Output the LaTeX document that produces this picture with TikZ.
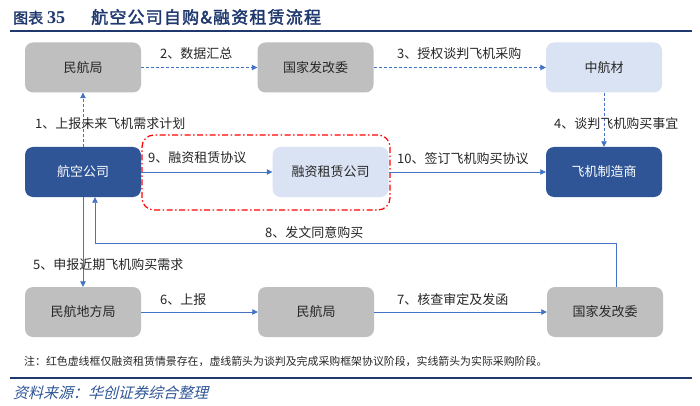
\documentclass[tikz,border=0pt]{standalone}
\usepackage{fontspec}
\usetikzlibrary{arrows.meta}
\setmainfont{Noto Sans CJK SC}
\newfontfamily\titlefont{Noto Sans CJK SC}[FakeBold=2]
\newfontfamily\titlefontsp{Noto Sans CJK SC}[FakeBold=2,LetterSpace=7]
\newfontfamily\srcfont{Noto Sans CJK SC}[FakeSlant=0.25]
\newfontfamily\numfont{Liberation Serif}
\definecolor{boxgray}{RGB}{191,191,191}
\definecolor{lightblue}{RGB}{218,227,243}
\definecolor{darkblue}{RGB}{47,85,151}
\definecolor{arrowblue}{RGB}{68,114,196}
\definecolor{navy}{RGB}{31,56,110}
\definecolor{txt}{RGB}{38,38,38}
\definecolor{srcblue}{RGB}{47,85,151}
\begin{document}
\begin{tikzpicture}[x=1pt,y=-1pt,
  box/.style={rounded corners=8pt, minimum width=116pt, minimum height=50pt, inner sep=0pt,
              font=\fontsize{13}{13}\selectfont, text=txt},
  graybox/.style={box, fill=boxgray},
  lightbox/.style={box, fill=lightblue},
  darkbox/.style={box, fill=darkblue, text=white},
  arr/.style={draw=arrowblue, line width=0.8pt, -{Triangle[length=5.5pt,width=5.5pt]}},
  darr/.style={arr, dash pattern=on 3pt off 2pt},
  lbl/.style={font=\fontsize{13}{13}\selectfont, text=txt, inner sep=0pt, anchor=west},
  redframe/.style={draw=red, line width=1.2pt, dash pattern=on 6pt off 2.5pt on 1.5pt off 2.5pt,
                   rounded corners=12pt, minimum width=248pt, minimum height=75pt, inner sep=0pt}
]
\useasboundingbox (0,0) rectangle (700,406);
\fill[white] (0,0) rectangle (700,406);

% title
\node[anchor=west, inner sep=0pt, text=navy] (title) at (13,17)
  {\titlefont\fontsize{15}{15}\selectfont 图表\hspace{4pt}{\numfont\bfseries\fontsize{18}{18}\selectfont 35}\hspace{26pt}{\titlefontsp\fontsize{17}{17}\selectfont 航空公司自购\&融资租赁流程}};
\coordinate (tl1) at (10,31);
\coordinate (tl2) at (692,31);
\draw[navy, line width=2pt] (tl1) -- (tl2);

% red frame
\node[redframe] (frame) at (266,172.5) {};

% boxes
\node[graybox] (mhj) at (83,67.5) {民航局};
\node[graybox] (gfw) at (315.5,67.5) {国家发改委};
\node[lightbox] (zhc) at (604,67.5) {中航材};
\node[darkbox] (hk) at (83,172) {航空公司};
\node[lightbox] (rz) at (330.5,172) {融资租赁公司};
\node[darkbox] (zz) at (604,172) {飞机制造商};
\node[graybox] (dfj) at (83,312) {民航地方局};
\node[graybox] (mhb) at (316,312) {民航局};
\node[graybox] (gb) at (605,312) {国家发改委};

% connectors
\draw[darr] (hk) -- (mhj);
\draw[darr] (mhj) -- (gfw);
\draw[darr] (gfw) -- (zhc);
\draw[darr] (zhc) -- (zz);
\draw[arr] (hk) -- (rz);
\draw[arr] (rz) -- (zz);
\draw[arr] (hk) -- (dfj);
\draw[arr] (dfj) -- (mhb);
\draw[arr] (mhb) -- (gb);
\coordinate (c8) at (95,243);
\draw[arr] ([xshift=11pt]gb.north) |- (c8) -- ([xshift=12pt]hk.south);

% labels
\node[lbl] (l1) at (35,124) {1、上报未来飞机需求计划};
\node[lbl] (l2) at (160,54) {2、数据汇总};
\node[lbl] (l3) at (397,54) {3、授权谈判飞机采购};
\node[lbl] (l4) at (554,124) {4、谈判飞机购买事宜};
\node[lbl] (l9) at (148,158) {9、融资租赁协议};
\node[lbl] (l10) at (397,159) {10、签订飞机购买协议};
\node[lbl] (l8) at (265,233) {8、发文同意购买};
\node[lbl] (l5) at (33,265) {5、申报近期飞机购买需求};
\node[lbl] (l6) at (160,300) {6、上报};
\node[lbl] (l7) at (397,300) {7、核查审定及发函};

% note
\node[anchor=west, inner sep=0pt, text=txt, font=\fontsize{10.9}{10.9}\selectfont] (note) at (24,361)
  {注：红色虚线框仅融资租赁情景存在，虚线箭头为谈判及完成采购框架协议阶段，实线箭头为实际采购阶段。};
\coordinate (bl1) at (10,378);
\coordinate (bl2) at (692,378);
\draw[navy, line width=1.5pt] (bl1) -- (bl2);
\node[anchor=west, inner sep=0pt, text=srcblue, font=\srcfont\fontsize{15}{15}\selectfont] (src) at (13,393)
  {资料来源：华创证券综合整理};
\end{tikzpicture}
\end{document}
